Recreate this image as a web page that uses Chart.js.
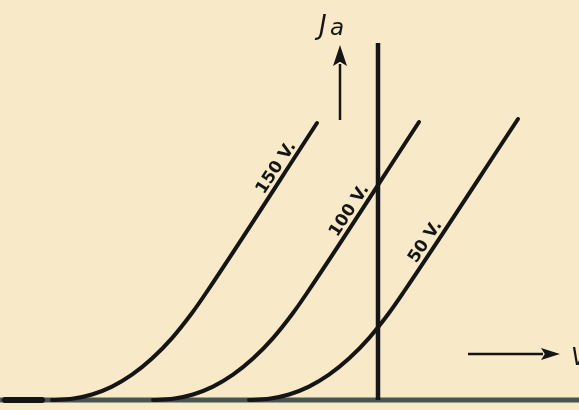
<!DOCTYPE html>
<html>
<head>
<meta charset="utf-8">
<script src="https://cdn.jsdelivr.net/npm/chart.js@4.4.1/dist/chart.umd.min.js"></script>
<style>
  html, body { margin: 0; padding: 0; background: #f8eac8; }
  canvas { display: block; }
</style>
</head>
<body>
<canvas id="c" width="579" height="410"></canvas>
<script>
// Anode current Ja against grid voltage Ug, one curve per anode voltage
const curveLabels = ['150 V.', '100 V.', '50 V.'];

const ug150 = [-32.6, -30.6, -28.6, -26.6, -24.6, -22.6, -20.6, -18.6, -17.2, -6.1];
const ia150 = [0.0, 0.12, 0.55, 1.34, 2.53, 4.14, 6.19, 8.7, 10.7, 27.7];

const ug100 = [-22.5, -20.5, -18.5, -16.5, -14.5, -12.5, -10.5, -8.5, -7.1, 4.1];
const ia100 = [0.0, 0.12, 0.55, 1.34, 2.53, 4.14, 6.19, 8.7, 10.7, 27.8];

const ug50 = [-12.9, -10.9, -8.9, -6.9, -4.9, -2.9, -0.9, 1.1, 2.5, 14.0];
const ia50 = [0.0, 0.12, 0.55, 1.34, 2.53, 4.14, 6.19, 8.7, 10.7, 28.1];

// axis extents (Ug, Ja)
const ugRange = [-37.8, 20.1];
const iaRange = [-1.0, 40.0];
const iaAxisTop = 35.7;

const INK = '#151515';
const BASE = '#48544f';
const PAPER = '#f8eac8';

const toPts = (xs, ys) => xs.map((x, i) => ({ x, y: ys[i] }));

const curves = [toPts(ug150, ia150), toPts(ug100, ia100), toPts(ug50, ia50)];
// where along each curve its label sits (Ja level)
const labelLevels = [22.7, 18.4, 15.3];

const curveSet = (pts) => ({
  data: pts,
  showLine: true,
  borderColor: INK,
  borderWidth: 4,
  pointRadius: 0,
  cubicInterpolationMode: 'monotone',
  borderCapStyle: 'round',
  borderJoinStyle: 'round',
  fill: false
});

const paperPlugin = {
  id: 'paper',
  beforeDraw(chart) {
    const { ctx, width, height } = chart;
    ctx.save();
    ctx.fillStyle = PAPER;
    ctx.fillRect(0, 0, width, height);
    ctx.restore();
  }
};

function arrow(ctx, x0, y0, x1, y1, headLen, headHalf, lw) {
  const ang = Math.atan2(y1 - y0, x1 - x0);
  const bx = x1 - headLen * Math.cos(ang);
  const by = y1 - headLen * Math.sin(ang);
  ctx.beginPath();
  ctx.moveTo(x0, y0);
  ctx.lineTo(bx + 2 * Math.cos(ang), by + 2 * Math.sin(ang));
  ctx.lineWidth = lw;
  ctx.strokeStyle = INK;
  ctx.stroke();
  ctx.beginPath();
  ctx.moveTo(x1, y1);
  ctx.lineTo(bx + headHalf * Math.sin(ang), by - headHalf * Math.cos(ang));
  ctx.lineTo(bx + headLen * 0.2 * Math.cos(ang), by + headLen * 0.2 * Math.sin(ang));
  ctx.lineTo(bx - headHalf * Math.sin(ang), by + headHalf * Math.cos(ang));
  ctx.closePath();
  ctx.fillStyle = INK;
  ctx.fill();
}

const annotatePlugin = {
  id: 'annotate',
  afterDatasetsDraw(chart) {
    const { ctx } = chart;
    const xs = chart.scales.x, ys = chart.scales.y;
    ctx.save();

    // curve labels, written along the straight upper part of each curve
    ctx.font = 'bold 17px "DejaVu Sans"';
    ctx.fillStyle = INK;
    ctx.textAlign = 'center';
    ctx.textBaseline = 'alphabetic';
    curves.forEach((pts, i) => {
      const a = pts[pts.length - 2], b = pts[pts.length - 1];
      const ax = xs.getPixelForValue(a.x), ay = ys.getPixelForValue(a.y);
      const bx = xs.getPixelForValue(b.x), by = ys.getPixelForValue(b.y);
      const t = (labelLevels[i] - a.y) / (b.y - a.y);
      const lx = xs.getPixelForValue(a.x + t * (b.x - a.x));
      const ly = ys.getPixelForValue(labelLevels[i]);
      const ang = Math.atan2(by - ay, bx - ax);
      const len = Math.hypot(bx - ax, by - ay);
      const nx = (by - ay) / len, ny = -(bx - ax) / len;
      ctx.save();
      ctx.translate(lx + nx * 5, ly + ny * 5);
      ctx.rotate(ang);
      ctx.fillText(curveLabels[i], 0, 0);
      ctx.restore();
    });

    // Ja arrow and title
    const jx = xs.getPixelForValue(-3.8);
    arrow(ctx, jx, ys.getPixelForValue(28.0), jx, ys.getPixelForValue(35.5), 21, 7, 2.5);
    ctx.font = 'italic 26px "DejaVu Sans"';
    ctx.textAlign = 'left';
    ctx.fillText('J', 319, 34);
    ctx.font = 'italic 23px "DejaVu Sans"';
    ctx.fillText('a', 330, 35);

    // Ug arrow and title
    const vy = ys.getPixelForValue(4.6);
    arrow(ctx, xs.getPixelForValue(9.0), vy, xs.getPixelForValue(18.2), vy, 19, 6, 2.5);
    ctx.font = 'italic 24px "DejaVu Sans"';
    ctx.fillText('V', 571, 365);

    ctx.restore();
  }
};

new Chart(document.getElementById('c'), {
  type: 'scatter',
  data: {
    datasets: [
      curveSet(curves[0]),
      curveSet(curves[1]),
      curveSet(curves[2]),
      { // Ja axis
        data: [{ x: 0, y: 0 }, { x: 0, y: iaAxisTop }],
        showLine: true, borderColor: INK, borderWidth: 4.5, pointRadius: 0,
        borderCapStyle: 'butt'
      },
      { // heavy start of the Ug axis
        data: [{ x: -37.3, y: 0 }, { x: -33.6, y: 0 }],
        showLine: true, borderColor: INK, borderWidth: 6, pointRadius: 0,
        borderCapStyle: 'round'
      },
      { // Ug axis
        data: [{ x: ugRange[0], y: 0 }, { x: ugRange[1], y: 0 }],
        showLine: true, borderColor: BASE, borderWidth: 5, pointRadius: 0
      }
    ]
  },
  options: {
    responsive: false,
    animation: false,
    events: [],
    layout: { padding: 0 },
    plugins: { legend: { display: false }, tooltip: { enabled: false } },
    scales: {
      x: { type: 'linear', min: ugRange[0], max: ugRange[1], display: false },
      y: { type: 'linear', min: iaRange[0], max: iaRange[1], display: false }
    }
  },
  plugins: [paperPlugin, annotatePlugin]
});
</script>
</body>
</html>
